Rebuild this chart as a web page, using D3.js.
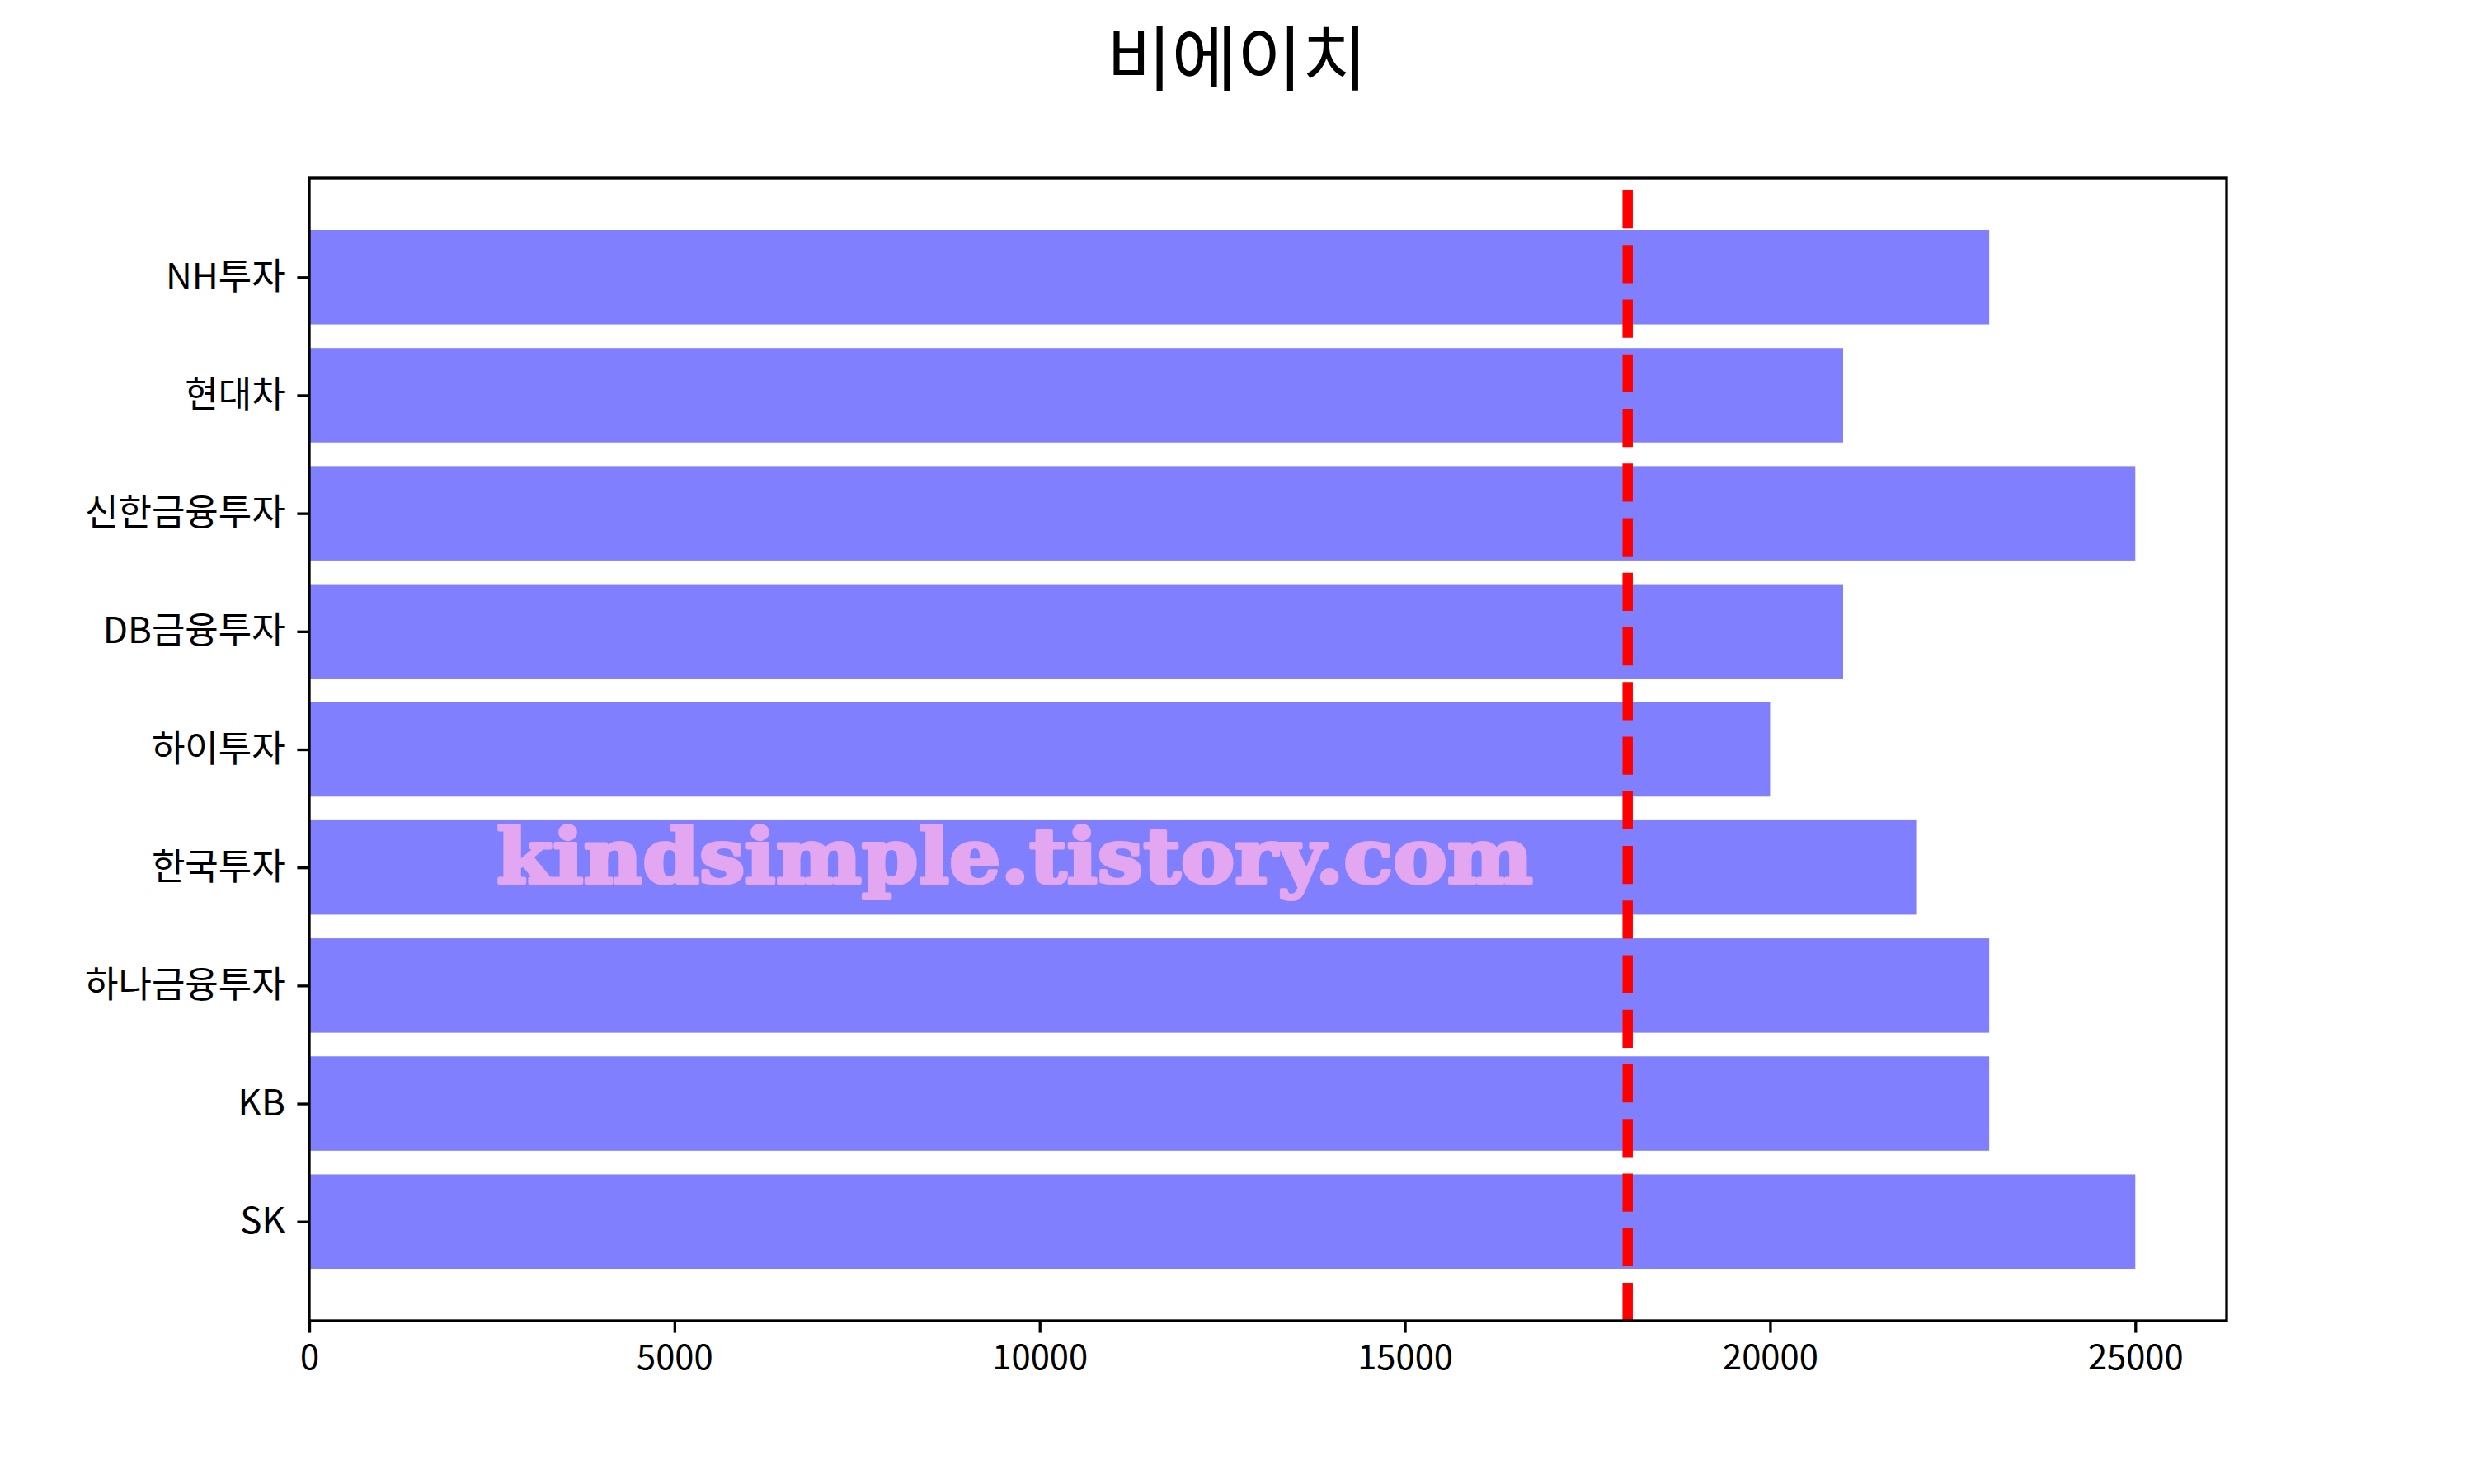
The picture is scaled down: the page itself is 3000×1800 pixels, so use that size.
<!DOCTYPE html>
<html>
<head>
<meta charset="utf-8">
<script src="https://cdn.jsdelivr.net/npm/d3@7"></script>
<style>
  body { margin: 0; background: #fff; }
  text { font-family: "Noto Sans CJK KR", "Noto Sans", sans-serif; }
</style>
</head>
<body>
<div id="chart"></div>
<script>
// data, bottom to top as in the picture
var companies = ["SK", "KB", "하나금융투자", "한국투자", "하이투자", "DB금융투자", "신한금융투자", "현대차", "NH투자"];
var targets = [25000, 23000, 23000, 22000, 20000, 21000, 25000, 21000, 23000];
var xTicks = [0, 5000, 10000, 15000, 20000, 25000];
var refPrice = [18050];
var chartTitle = "비에이치";
var watermark = "kindsimple.tistory.com";

var w = 3000, h = 1800;
var axLeft = 375, axRight = 2700, axTop = 216, axBottom = 1602;
var barH = 0.8;
var redTop = 8.735; // dashed line starts a little under the top frame

var svg = d3.select("#chart")
	.append("svg")
	.attr("width", w)
	.attr("height", h)
	.style("display", "block");

svg.append("rect")
	.attr("width", w)
	.attr("height", h)
	.attr("fill", "#fff");

var xMax = d3.max(targets) * 1.05;
var x = d3.scaleLinear()
	.domain([0, xMax])
	.range([axLeft, axRight]);

var yPad = (companies.length - 1 + barH) * 0.05;
var y = d3.scaleLinear()
	.domain([-barH / 2 - yPad, companies.length - 1 + barH / 2 + yPad])
	.range([axBottom, axTop]);

// bars
svg.selectAll(".bar")
	.data(targets)
	.enter()
	.append("rect")
	.attr("class", "bar")
	.attr("x", x(0))
	.attr("y", function(d, i){
		return y(i + barH / 2);
	})
	.attr("width", function(d){
		return x(d) - x(0);
	})
	.attr("height", function(d, i){
		return y(i - barH / 2) - y(i + barH / 2);
	})
	.attr("fill", "#8080ff");

// reference line
svg.selectAll(".refLine")
	.data(refPrice)
	.enter()
	.append("line")
	.attr("class", "refLine")
	.attr("x1", function(d){ return x(d); })
	.attr("x2", function(d){ return x(d); })
	.attr("y1", y(redTop))
	.attr("y2", axBottom)
	.attr("stroke", "#ff0000")
	.attr("stroke-width", 12.5)
	.attr("stroke-dasharray", "46.25,20");

// x axis
var xAxis = d3.axisBottom(x)
	.tickValues(xTicks)
	.tickFormat(d3.format("d"))
	.tickSize(14.6)
	.tickPadding(14.6);
var gx = svg.append("g")
	.attr("transform", "translate(0," + axBottom + ")")
	.call(xAxis);
gx.select(".domain").remove();
gx.selectAll("line").attr("stroke", "#000").attr("stroke-width", 3.33);
gx.selectAll("text")
	.attr("font-size", 41.7)
	.attr("fill", "#000")
	.style("font-family", "'Noto Sans CJK KR', sans-serif");

// y axis
var yAxis = d3.axisLeft(y)
	.tickValues(d3.range(companies.length))
	.tickFormat(function(d){ return companies[d]; })
	.tickSize(14.6)
	.tickPadding(14.6);
var gy = svg.append("g")
	.attr("transform", "translate(" + axLeft + ",0)")
	.call(yAxis);
gy.select(".domain").remove();
gy.selectAll("line").attr("stroke", "#000").attr("stroke-width", 3.33);
gy.selectAll("text")
	.attr("font-size", 44)
	.attr("fill", "#000")
	.style("font-family", "'Noto Sans CJK KR', sans-serif");

// frame
svg.append("rect")
	.attr("x", axLeft)
	.attr("y", axTop)
	.attr("width", axRight - axLeft)
	.attr("height", axBottom - axTop)
	.attr("fill", "none")
	.attr("stroke", "#000")
	.attr("stroke-width", 3.33);

// title
svg.append("text")
	.attr("x", w / 2)
	.attr("y", 103)
	.attr("text-anchor", "middle")
	.attr("font-size", 86)
	.attr("fill", "#000")
	.text(chartTitle);

// watermark
svg.append("text")
	.attr("x", 602)
	.attr("y", 1071)
	.attr("font-size", 92)
	.attr("font-weight", "bold")
	.attr("textLength", 1257)
	.attr("lengthAdjust", "spacingAndGlyphs")
	.attr("fill", "#e3a6f1")
	.attr("stroke", "#e3a6f1")
	.attr("stroke-width", 4)
	.attr("stroke-linejoin", "round")
	.style("font-family", "'DejaVu Serif', serif")
	.text(watermark);
</script>
</body>
</html>
